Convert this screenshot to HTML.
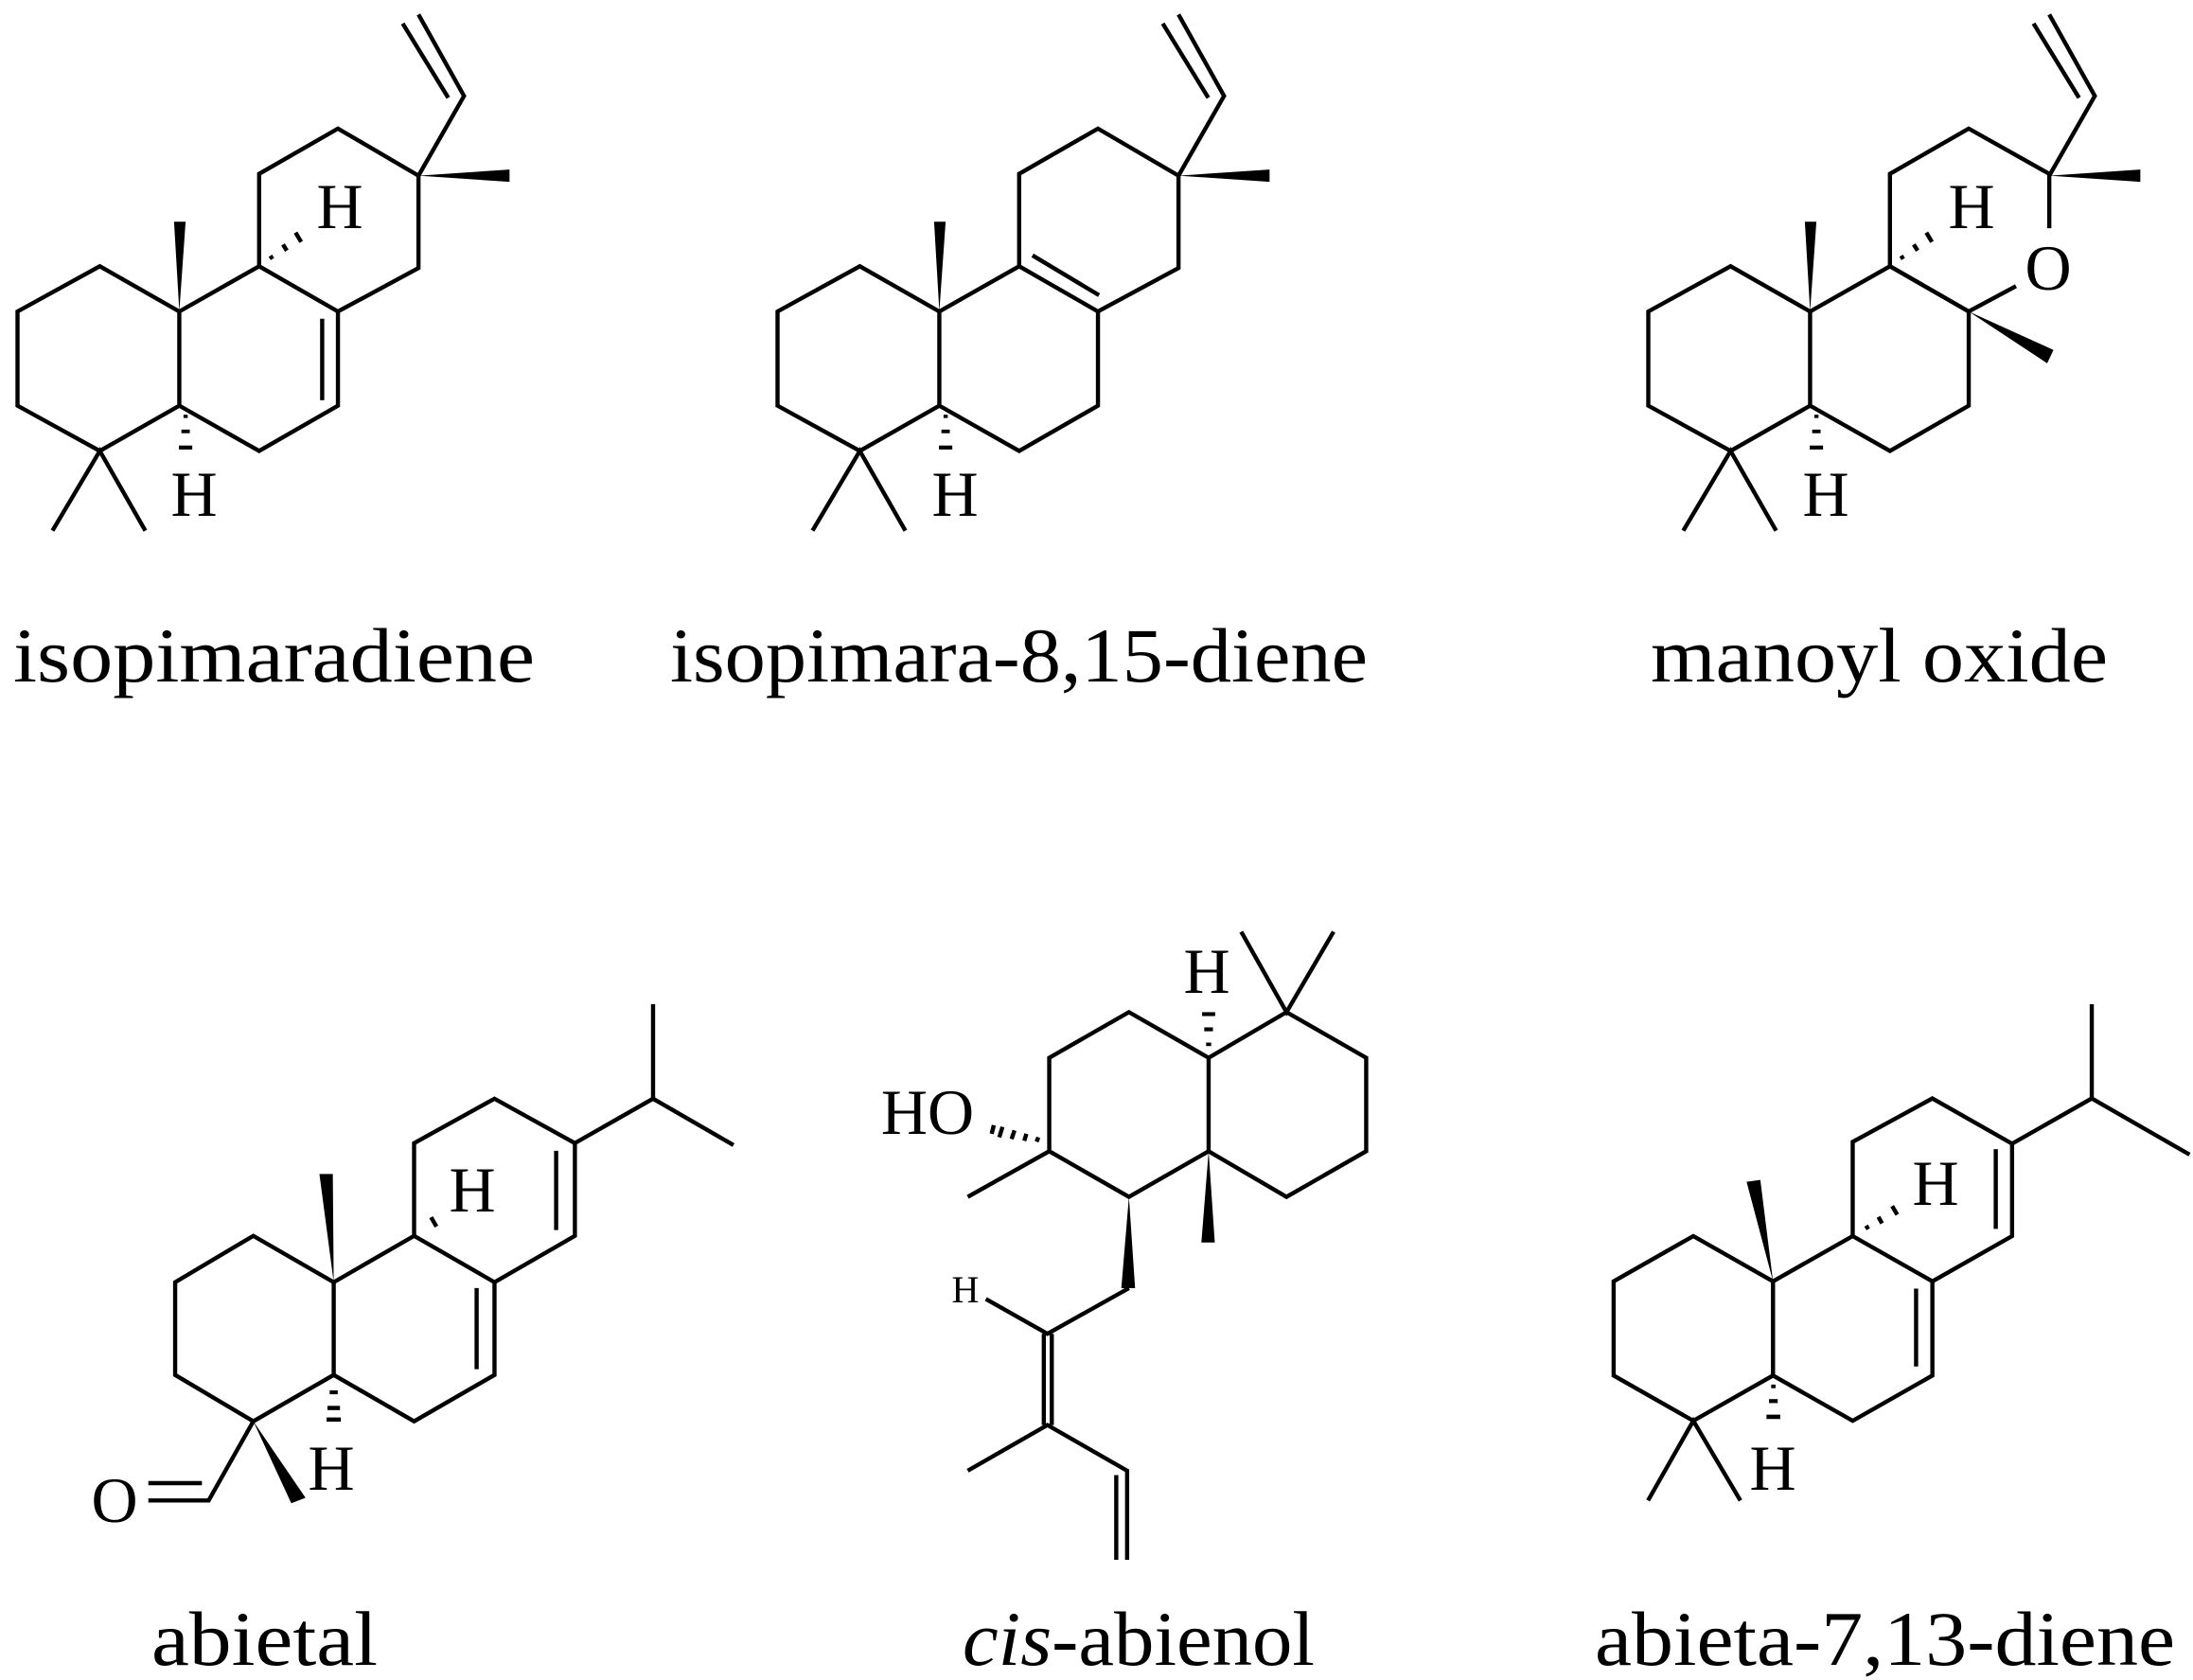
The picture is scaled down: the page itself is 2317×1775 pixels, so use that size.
<!DOCTYPE html>
<html><head><meta charset="utf-8"><style>
html,body{margin:0;padding:0;background:#fff;}
svg{display:block;}
text{font-family:"Liberation Serif",serif;fill:#000;}
line,polyline,polygon{vector-effect:non-scaling-stroke;}
</style></head><body>
<svg width="2317" height="1775" viewBox="0 0 2317 1775" xmlns="http://www.w3.org/2000/svg">
<defs>
<g id="s1core">
  <polygon points="50,860 285,735 512,860 512,1120 285,1245 50,1120" fill="none"/>
  <polyline points="512,860 740,735 965,860 965,1120 740,1245 512,1120" fill="none"/>
  <polyline points="150,1465 285,1245 415,1465" fill="none"/>
  <polygon points="512,860 497,612 530,612" fill="#000" stroke="none"/>
  <rect x="524" y="1145" width="12" height="9" fill="#000" stroke="none"/>
  <rect x="518" y="1186" width="24" height="10" fill="#000" stroke="none"/>
  <rect x="511" y="1230" width="38" height="11" fill="#000" stroke="none"/>
</g>
<g id="vinyl">
  <polyline points="1195,485 1325,265 1195,40" fill="none"/>
  <line x1="1280" y1="270" x2="1150" y2="65"/>
  <polygon points="1195,485 1455,468 1455,502" fill="#000" stroke="none"/>
</g>
<g id="hash9">
  <line x1="772" y1="706" x2="778" y2="715"/>
  <line x1="808" y1="675" x2="819" y2="692"/>
  <line x1="844" y1="642" x2="860" y2="668"/>
</g>
</defs>

<g stroke="#000" stroke-width="4.4" stroke-linecap="butt" stroke-linejoin="miter">
<g transform="translate(0,0) scale(0.370,0.3827)">
  <use href="#s1core"/>
  <polyline points="740,735 740,480 965,355 1195,485 1195,740 965,860" fill="none"/>
  <line x1="920" y1="880" x2="920" y2="1105"/>
  <use href="#vinyl"/>
  <use href="#hash9"/>
</g>
<g transform="translate(803,0) scale(0.370,0.3827)">
  <use href="#s1core"/>
  <polyline points="740,735 740,480 965,355 1195,485 1195,740 965,860" fill="none"/>
  <line x1="778" y1="705" x2="968" y2="815"/>
  <use href="#vinyl"/>
</g>
<g transform="translate(1723,0) scale(0.370,0.3827)">
  <use href="#s1core"/>
  <polyline points="965,860 740,735 740,480 965,355 1195,480 1195,630" fill="none"/>
  <line x1="1100" y1="790" x2="965" y2="860"/>
  <polygon points="965,860 1207,966 1189,1003" fill="#000" stroke="none"/>
  <use href="#vinyl"/>
  <use href="#hash9"/>
</g>
<g transform="translate(60,1020) scale(0.4719,0.4082)">
  <polygon points="265,820 440,700 620,820 620,1060 440,1180 265,1060" fill="none"/>
  <polyline points="620,820 800,700 980,820 980,1060 800,1180 620,1060" fill="none"/>
  <line x1="940" y1="835" x2="940" y2="1045"/>
  <polyline points="800,700 800,460 980,345 1160,460 1160,700 980,820" fill="none"/>
  <line x1="1118" y1="480" x2="1118" y2="685"/>
  <polyline points="1160,460 1335,345 1515,465" fill="none"/>
  <line x1="1335" y1="345" x2="1335" y2="100"/>
  <line x1="838" y1="652" x2="850" y2="676"/>
  <polygon points="620,820 588,540 618,540" fill="#000" stroke="none"/>
  <rect x="611" y="1100" width="18" height="10" fill="#000" stroke="none"/>
  <rect x="606" y="1140" width="28" height="11" fill="#000" stroke="none"/>
  <rect x="604" y="1170" width="32" height="11" fill="#000" stroke="none"/>
  <polyline points="440,1180 340,1385 205,1385" fill="none"/>
  <line x1="205" y1="1340" x2="325" y2="1340"/>
  <polygon points="440,1180 525,1392 557,1378" fill="#000" stroke="none"/>
</g>
<g transform="translate(900,950) scale(0.3827,0.4592)">
  <polygon points="545,365 765,260 985,365 985,580 765,685 545,580" fill="none"/>
  <polyline points="985,365 1200,260 1420,365 1420,580 1200,685 985,580" fill="none"/>
  <polyline points="1075,75 1200,260 1330,75" fill="none"/>
  <line x1="545" y1="580" x2="320" y2="685"/>
  <rect x="978" y="330" width="14" height="8" fill="#000" stroke="none"/>
  <rect x="973" y="295" width="24" height="9" fill="#000" stroke="none"/>
  <rect x="967" y="260" width="36" height="9" fill="#000" stroke="none"/>
  <line x1="515" y1="548" x2="510" y2="558"/>
  <line x1="482" y1="540" x2="476" y2="556"/>
  <line x1="449" y1="532" x2="441" y2="552"/>
  <line x1="416" y1="524" x2="407" y2="548"/>
  <line x1="392" y1="520" x2="386" y2="540"/>
  <polygon points="985,580 965,790 1002,790" fill="#000" stroke="none"/>
  <polygon points="765,685 744,895 782,895" fill="#000" stroke="none"/>
  <polyline points="765,895 540,1000 370,920" fill="none"/>
  <line x1="530" y1="1000" x2="530" y2="1210"/>
  <line x1="552" y1="1000" x2="552" y2="1210"/>
  <polyline points="320,1315 540,1210 760,1315 760,1520" fill="none"/>
  <line x1="730" y1="1325" x2="730" y2="1520"/>
</g>
<g transform="translate(1680,1040) scale(0.3827,0.3827)">
  <polygon points="65,820 285,695 505,820 505,1080 285,1205 65,1080" fill="none"/>
  <polyline points="505,820 725,695 945,820 945,1080 725,1205 505,1080" fill="none"/>
  <line x1="900" y1="840" x2="900" y2="1055"/>
  <polyline points="725,695 725,435 945,315 1165,440 1165,695 945,820" fill="none"/>
  <line x1="1120" y1="455" x2="1120" y2="675"/>
  <polyline points="1165,440 1385,315 1655,470" fill="none"/>
  <line x1="1385" y1="315" x2="1385" y2="55"/>
  <polyline points="160,1425 285,1205 415,1425" fill="none"/>
  <polygon points="505,820 432,545 470,540" fill="#000" stroke="none"/>
  <line x1="762" y1="666" x2="768" y2="676"/>
  <line x1="796" y1="642" x2="806" y2="660"/>
  <line x1="834" y1="612" x2="848" y2="636"/>
  <rect x="500" y="1105" width="12" height="10" fill="#000" stroke="none"/>
  <rect x="494" y="1145" width="24" height="11" fill="#000" stroke="none"/>
  <rect x="487" y="1188" width="38" height="12" fill="#000" stroke="none"/>
</g>
</g>

<g font-size="68" text-anchor="middle">
  <text x="359" y="241">H</text>
  <text x="205" y="545">H</text>
  <text x="1009" y="545">H</text>
  <text x="2083" y="241">H</text>
  <text x="1929" y="545">H</text>
  <text x="2164" y="306">O</text>
  <text x="499" y="1280">H</text>
  <text x="350" y="1574">H</text>
  <text x="121" y="1608">O</text>
  <text x="980" y="1198">HO</text>
  <text x="1275" y="1049">H</text>
  <text x="2045" y="1273">H</text>
  <text x="1873" y="1574">H</text>
  <text x="1020" y="1376" font-size="40">H</text>
</g>

<g font-size="82">
  <text x="14" y="720" textLength="551" lengthAdjust="spacingAndGlyphs">isopimaradiene</text>
  <text x="708" y="720" textLength="737" lengthAdjust="spacingAndGlyphs">isopimara-8,15-diene</text>
  <text x="1744" y="720" textLength="483" lengthAdjust="spacingAndGlyphs">manoyl oxide</text>
  <text x="160" y="1759" textLength="239" lengthAdjust="spacingAndGlyphs">abietal</text>
  <text x="1017" y="1759" textLength="372" lengthAdjust="spacingAndGlyphs"><tspan font-style="italic">cis</tspan>-abienol</text>
  <text x="1685" y="1759" textLength="613" lengthAdjust="spacingAndGlyphs">abieta-7,13-diene</text>
</g>
</svg>
</body></html>
